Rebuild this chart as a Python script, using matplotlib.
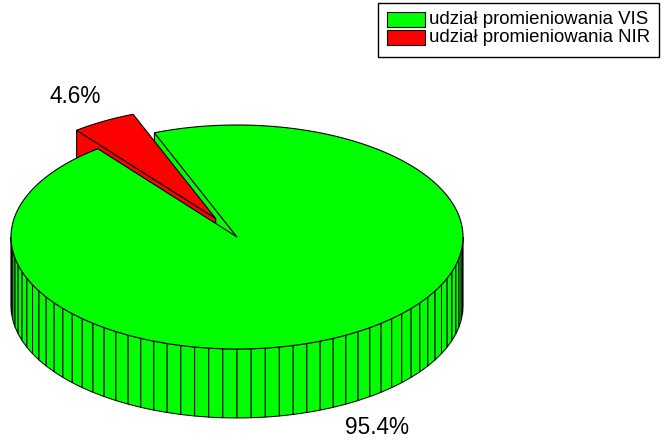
import numpy as np
import matplotlib
matplotlib.use("Agg")
import matplotlib.pyplot as plt
from matplotlib.patches import Polygon, Rectangle

# ---- data ----
labels = ["udział promieniowania VIS", "udział promieniowania NIR"]
values = [95.4, 4.6]
colors = ["#00ff00", "#ff0000"]
explode = [0.0, 0.19]

# ---- geometry (pixel space) ----
W, H = 665, 445
cx, cy = 237.0, 237.0
a, b = 226.0, 112.0
depth = 69.0
start_angle = 128.0
n_facets_full = 100
label_r = 1.25

fig = plt.figure(figsize=(W / 100, H / 100), dpi=100)
ax = fig.add_axes([0, 0, 1, 1])
ax.set_xlim(0, W)
ax.set_ylim(H, 0)
ax.axis("off")

plt.rcParams["font.family"] = ["Liberation Sans", "DejaVu Sans"]

lw = 0.8
total = float(sum(values))
slices = []
ang = start_angle
for v, col, ex in zip(values, colors, explode):
    span = 360.0 * v / total
    t0, t1 = ang, ang + span
    mid = np.radians((t0 + t1) / 2)
    ox = cx + ex * a * np.cos(mid)
    oy = cy - ex * b * np.sin(mid)
    slices.append(dict(t0=t0, t1=t1, mid=mid, ox=ox, oy=oy, col=col, ex=ex, v=v))
    ang = t1


def pt(s, th_deg, dz=0.0):
    th = np.radians(th_deg)
    return (s["ox"] + a * np.cos(th), s["oy"] - b * np.sin(th) + dz)


def top_face(s):
    ths = np.linspace(s["t0"], s["t1"], max(3, int((s["t1"] - s["t0"]) * 2)))
    pts = [(s["ox"], s["oy"])] + [pt(s, t) for t in ths]
    ax.add_patch(Polygon(pts, closed=True, facecolor=s["col"], edgecolor="black", lw=lw))


def radial_faces(s):
    c = (s["ox"], s["oy"])
    cb = (s["ox"], s["oy"] + depth)
    for th, side in ((s["t0"], "start"), (s["t1"], "end")):
        c_ = np.cos(np.radians(th))
        visible = (c_ > 0) if side == "start" else (c_ < 0)
        if visible:
            pts = [c, pt(s, th), pt(s, th, depth), cb]
            ax.add_patch(Polygon(pts, closed=True, facecolor=s["col"], edgecolor="black", lw=lw))


def outer_side(s):
    step = 360.0 / n_facets_full
    # visible front range [180, 360] (mod 360)
    for k in range(-1, 2):
        lo = max(s["t0"], 180 + 360 * k)
        hi = min(s["t1"], 360 + 360 * k)
        if hi <= lo:
            continue
        n = max(1, int(round((hi - lo) / step)))
        edges = np.linspace(lo, hi, n + 1)
        for e0, e1 in zip(edges[:-1], edges[1:]):
            pts = [pt(s, e0), pt(s, e1), pt(s, e1, depth), pt(s, e0, depth)]
            ax.add_patch(Polygon(pts, closed=True, facecolor=s["col"], edgecolor="black", lw=lw * 0.9))


base = [s for s in slices if s["ex"] == 0]
expl = [s for s in slices if s["ex"] > 0]

for s in base:
    radial_faces(s)
for s in expl:
    outer_side(s)
    radial_faces(s)
    top_face(s)
for s in base:
    outer_side(s)
    top_face(s)

# percentage labels
for s in slices:
    lx = s["ox"] + label_r * a * np.cos(s["mid"])
    ly = s["oy"] - label_r * b * np.sin(s["mid"])
    if np.sin(s["mid"]) < 0:
        ly += depth
    ax.text(lx, ly, f"{s['v']:.1f}%", ha="center", va="center", fontsize=16.3, color="black")

# legend (manual, pixel space)
lx0, ly0, lx1, ly1 = 378, 3, 659, 57
ax.add_patch(Rectangle((lx0, ly0), lx1 - lx0, ly1 - ly0, facecolor="white", edgecolor="black", lw=1.0))
for i, (lab, col) in enumerate(zip(labels, colors)):
    yc = 19.5 + 18 * i
    ax.add_patch(Rectangle((387, yc - 7.5), 38, 15, facecolor=col, edgecolor="black", lw=0.8))
    ax.text(429, yc, lab, ha="left", va="center", fontsize=13.4, color="black")

fig.savefig("out.png", dpi=100)
